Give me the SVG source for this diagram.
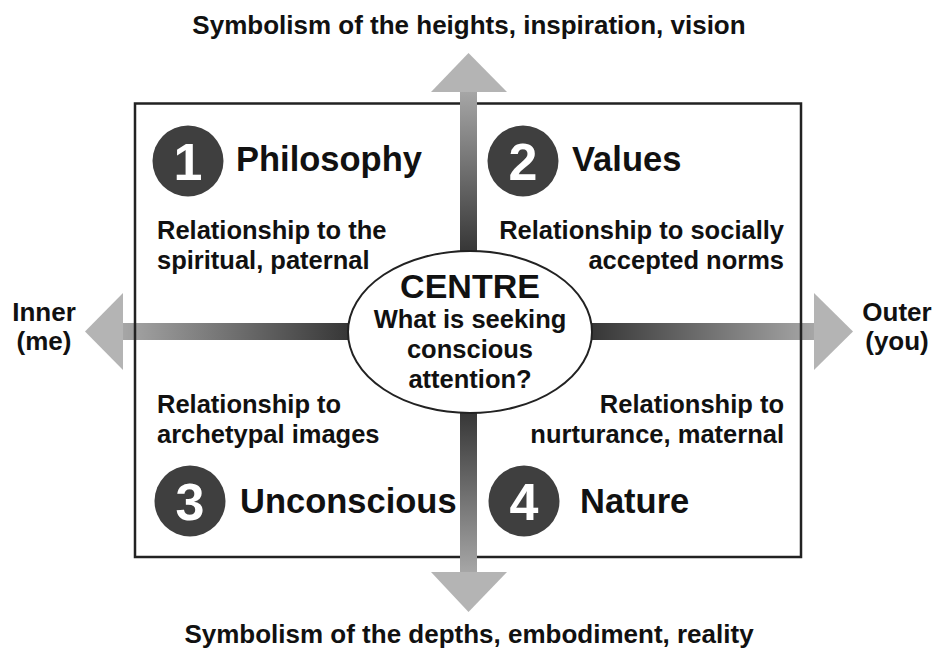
<svg xmlns="http://www.w3.org/2000/svg" width="933" height="650" viewBox="0 0 933 650">
<style>
text{font-family:"Liberation Sans",Arial,sans-serif;font-weight:bold;fill:#111}
.t{font-size:26px}
.h{font-size:34.5px}
.d{font-size:25.5px}
.n{font-size:52px;fill:#fff;text-anchor:middle}
.c{text-anchor:middle}
.r{text-anchor:end}
.num{fill:#3f3f3f}
.head{fill:#b4b4b4}
</style>
<defs>
<linearGradient id="gUp" gradientUnits="userSpaceOnUse" x1="0" y1="92" x2="0" y2="252"><stop offset="0" stop-color="#a6a6a6"/><stop offset="1" stop-color="#363636"/></linearGradient>
<linearGradient id="gDown" gradientUnits="userSpaceOnUse" x1="0" y1="572" x2="0" y2="412"><stop offset="0" stop-color="#a6a6a6"/><stop offset="1" stop-color="#363636"/></linearGradient>
<linearGradient id="gLeft" gradientUnits="userSpaceOnUse" x1="123" y1="0" x2="350" y2="0"><stop offset="0" stop-color="#a6a6a6"/><stop offset="1" stop-color="#363636"/></linearGradient>
<linearGradient id="gRight" gradientUnits="userSpaceOnUse" x1="814" y1="0" x2="590" y2="0"><stop offset="0" stop-color="#a6a6a6"/><stop offset="1" stop-color="#363636"/></linearGradient>
</defs>
<rect width="933" height="650" fill="#fff"/>
<g id="connectors">
<g id="arrow-left"><rect x="122" y="323" width="240" height="17" fill="url(#gLeft)"/><polygon class="head" points="85,331.5 123,293 123,370"/></g>
<g id="arrow-right"><rect x="580" y="323" width="235" height="17" fill="url(#gRight)"/><polygon class="head" points="853,331.5 814,293 814,370"/></g>
<g id="frame"><rect x="135" y="103.5" width="666" height="453.5" fill="none" stroke="#222" stroke-width="2.5"/></g>
<g id="arrow-up"><rect x="460" y="91" width="17" height="170" fill="url(#gUp)"/><polygon class="head" points="468.5,53 431,92 507,92"/></g>
<g id="arrow-down"><rect x="460" y="405" width="17" height="168" fill="url(#gDown)"/><polygon class="head" points="468.5,612 431,572 507,572"/></g>
</g>
<g id="title-top"><text class="t c" x="469" y="34">Symbolism of the heights, inspiration, vision</text></g>
<g id="title-bottom"><text class="t c" x="469" y="643">Symbolism of the depths, embodiment, reality</text></g>
<g id="inner"><text class="t c" x="44" y="321">Inner</text><text class="t c" x="44" y="350">(me)</text></g>
<g id="outer"><text class="t c" x="897" y="321">Outer</text><text class="t c" x="897" y="350">(you)</text></g>
<g id="centre">
<ellipse cx="470" cy="332" rx="122" ry="81" fill="#fff" stroke="#222" stroke-width="2"/>
<text class="c" x="470" y="298" style="font-size:34px">CENTRE</text>
<text class="d c" x="470" y="328">What is seeking</text>
<text class="d c" x="470" y="358">conscious</text>
<text class="d c" x="470" y="388">attention?</text>
</g>
<g id="q1">
<circle class="num" cx="188" cy="161" r="35.5"/><text class="n" x="188" y="180">1</text>
<text class="h" x="236" y="171">Philosophy</text>
<text class="d" x="157" y="239">Relationship to the</text>
<text class="d" x="157" y="269">spiritual, paternal</text>
</g>
<g id="q2">
<circle class="num" cx="523" cy="161" r="35.5"/><text class="n" x="523" y="180">2</text>
<text class="h" x="572" y="171">Values</text>
<text class="d r" x="784" y="239">Relationship to socially</text>
<text class="d r" x="784" y="269">accepted norms</text>
</g>
<g id="q3">
<circle class="num" cx="190" cy="501" r="35.5"/><text class="n" x="190" y="520">3</text>
<text class="h" x="240" y="513">Unconscious</text>
<text class="d" x="157" y="413">Relationship to</text>
<text class="d" x="157" y="443">archetypal images</text>
</g>
<g id="q4">
<circle class="num" cx="524" cy="501" r="35.5"/><text class="n" x="524" y="520">4</text>
<text class="h" x="580" y="513">Nature</text>
<text class="d r" x="784" y="413">Relationship to</text>
<text class="d r" x="784" y="443">nurturance, maternal</text>
</g>
</svg>
